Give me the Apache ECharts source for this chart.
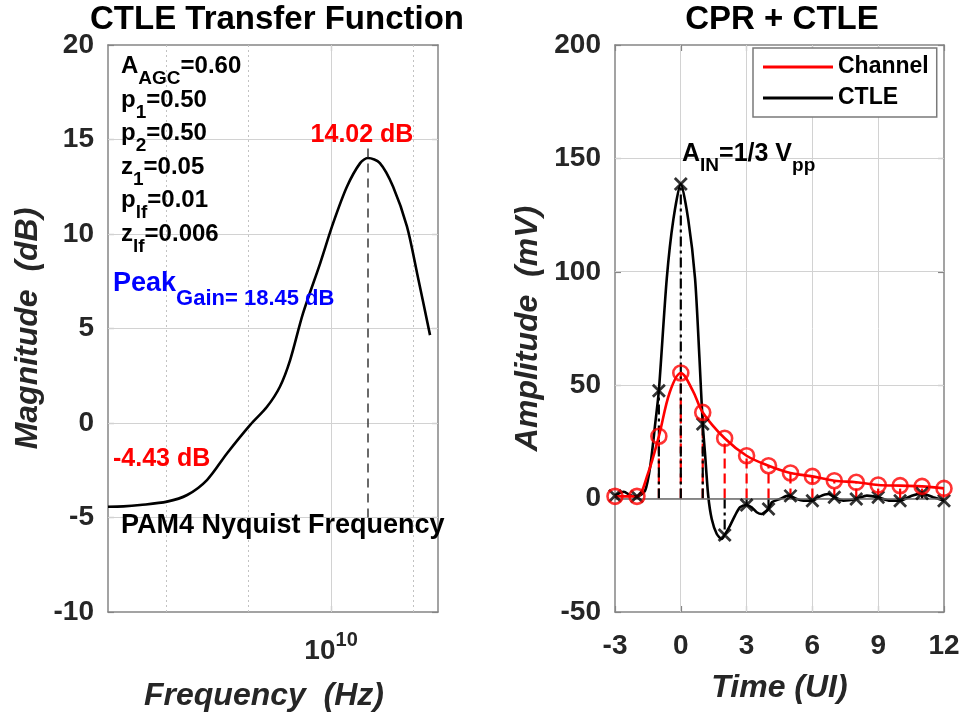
<!DOCTYPE html>
<html>
<head>
<meta charset="utf-8">
<script src="https://cdn.jsdelivr.net/npm/echarts@6/dist/echarts.min.js"></script>
<style>html,body{margin:0;padding:0;background:#fff}#c{width:965px;height:718px}</style>
</head>
<body>
<div id="c"></div>
<script>
// ---------------- data: left panel (CTLE transfer function) ----------------
const freqHz = [2.109e9, 2.35e9, 2.636e9, 3.184e9, 3.664e9, 4.207e9, 4.842e9, 5.689e9, 6.397e9, 6.998e9, 7.516e9,
                8.222e9, 9.268e9, 1.014e10, 1.117e10, 1.225e10, 1.294e10, 1.406e10, 1.542e10, 1.698e10, 1.824e10, 1.995e10];
const magDb = [-4.43, -4.41, -4.34, -4.16, -3.81, -3.02, -1.6, -0.1, 0.86, 1.92, 3.33,
               5.8, 8.45, 10.56, 12.5, 13.75, 14.02, 13.75, 12.5, 10.4, 7.9, 4.65];
const freqRangeHz = [2.109e9, 2.109e10];
const freqMinorGridHz = [3.162e9, 5.623e9, 1.778e10];
const freqMajorTickHz = [1e10];
const nyquistHz = 1.294e10;
const nyquistLineDb = [-5, 14.7];
const magTicks = [-10, -5, 0, 5, 10, 15, 20];

// ---------------- data: right panel (CPR + CTLE) ----------------
const sampleUI = [-3, -2, -1, 0, 1, 2, 3, 4, 5, 6, 7, 8, 9, 10, 11, 12];
const channelSamples = [1, 1, 27.5, 55.4, 38, 26.6, 18.9, 14.5, 11.3, 9.8, 7.9, 7.2, 6, 5.7, 5.4, 4.5];
const ctleSamples = [1.3, 0.9, 47.6, 138.7, 32.9, -16, -2.8, -4.6, 1.2, -0.9, 0.6, -0.2, 0.6, -0.9, 2.2, -0.9];
const channelCurveT = [-3, -2.5, -2, -1.5, -1, -0.5, 0, 0.55, 1, 2, 3, 4, 5, 6, 7, 8, 9, 10, 11, 12];
const channelCurveV = [1, 1, 1, 11, 27.5, 47, 55.4, 47.5, 38, 26.6, 18.9, 14.5, 11.3, 9.8, 7.9, 7.2, 6, 5.7, 5.4, 4.5];
const ctleCurveT = [-3, -2.6, -2.3, -2, -1.63, -1.39, -1.16, -1, -0.64, -0.34, 0, 0.34, 0.65, 0.85, 1, 1.1, 1.25, 1.41,
                    1.64, 1.87, 2, 2.24, 2.47, 2.7, 3, 3.23, 3.46, 3.69, 3.92, 4, 4.15, 4.52, 4.9, 5, 5.29, 5.59, 6,
                    6.35, 6.73, 7, 7.41, 8, 8.48, 9, 9.54, 10, 10.53, 11, 11.51, 12];
const ctleCurveV = [1.3, 3, 1.5, 0.9, 3.5, 14.5, 33.6, 47.6, 97, 123, 138.7, 123, 97, 62, 32.9, 20.5, 1.3, -9,
                    -15.6, -17.8, -16, -12, -7.5, -3.8, -2.8, -3.8, -6, -6.8, -5.3, -4.6, -1.6, -0.2, 1.3, 1.2, -0.2, -0.9, -0.9,
                    1, 2, 0.6, -0.9, -0.2, 1.3, 0.6, -0.9, -0.9, 1.3, 2.2, 0.6, -0.9];
const timeTicks = [-3, 0, 3, 6, 9, 12];
const ampTicks = [-50, 0, 50, 100, 150, 200];

// ---------------- styling ----------------
const FONT = 'Liberation Sans, Arial, Helvetica, sans-serif';
const TXT = '#262626';
const AX = '#858585';
const GRIDC = '#d2d2d2';
const lg = Math.log10;
const first = a => a[0], last = a => a[a.length - 1];
const crisp = v => Math.round(v - 0.5) + 0.5;

const chart = echarts.init(document.getElementById('c'), null, {renderer: 'canvas'});

const tickLabel = () => ({fontSize: 28, fontWeight: 'bold', fontFamily: FONT, color: TXT, lineHeight: 28});
const axisName = () => ({fontSize: 32, fontWeight: 'bold', fontStyle: 'italic', fontFamily: FONT, color: TXT, lineHeight: 32});
const boxLine = () => ({show: true, onZero: false, lineStyle: {color: AX, width: 1.5}});
const inTick = () => ({show: true, inside: true, length: 6, lineStyle: {color: AX, width: 1.2}});

function txt(x, y, text, size, color, align) {
  return {type: 'text', x, y, silent: true, z: 100,
    style: {text, fontSize: size, fontWeight: 'bold', fontFamily: FONT, fill: color,
            align: align || 'left', verticalAlign: 'middle', textAlign: align || 'left', textVerticalAlign: 'middle'}};
}
function richTxt(x, y, text, mainSize, subSize, mainLH, subPad, color) {
  return {type: 'text', x, y, silent: true, z: 100,
    style: {text, fill: color, fontFamily: FONT, fontWeight: 'bold', fontSize: mainSize,
      align: 'left', verticalAlign: 'top', textAlign: 'left', textVerticalAlign: 'top',
      rich: {
        m: {fontSize: mainSize, fontWeight: 'bold', fontFamily: FONT, fill: color, lineHeight: mainLH, verticalAlign: 'top'},
        s: {fontSize: subSize, fontWeight: 'bold', fontFamily: FONT, fill: color, lineHeight: subSize + 1,
            padding: [subPad, 0, 0, 0], verticalAlign: 'top'}
      }}};
}

// grid lines drawn through the axes: [orientation(0=vertical,1=horizontal), value]
function gridLines(xIdx, yIdx, xs, ys, xr, yr, color, dash) {
  const data = xs.map(v => [0, v]).concat(ys.map(v => [1, v]));
  return {
    type: 'custom', xAxisIndex: xIdx, yAxisIndex: yIdx, z: 1, silent: true, clip: false,
    encode: {x: 0, y: 1}, data,
    renderItem: (params, api) => {
      const o = api.value(0), v = api.value(1);
      const a = o === 0 ? api.coord([v, yr[0]]) : api.coord([xr[0], v]);
      const b = o === 0 ? api.coord([v, yr[1]]) : api.coord([xr[1], v]);
      const shape = o === 0
        ? {x1: crisp(a[0]), y1: a[1], x2: crisp(b[0]), y2: b[1]}
        : {x1: a[0], y1: crisp(a[1]), x2: b[0], y2: crisp(b[1])};
      return {type: 'line', shape, style: {stroke: color, lineWidth: 1, lineDash: dash || null, fill: null}};
    }
  };
}

function stemSeries(name, values, color, dash, z) {
  return {
    type: 'custom', name, xAxisIndex: 2, yAxisIndex: 2, z, silent: true, clip: true,
    data: sampleUI.map((t, i) => [t, values[i]]),
    renderItem: (params, api) => {
      const a = api.coord([api.value(0), 0]);
      const b = api.coord([api.value(0), api.value(1)]);
      return {type: 'line', shape: {x1: a[0], y1: a[1], x2: b[0], y2: b[1]},
              style: {stroke: color, lineWidth: 2.2, lineDash: dash, fill: null}};
    }
  };
}

const fxr = [lg(freqRangeHz[0]), lg(freqRangeHz[1])];
const myr = [first(magTicks), last(magTicks)];
const txr = [first(timeTicks), last(timeTicks)];
const ayr = [first(ampTicks), last(ampTicks)];

const option = {
  animation: false,
  backgroundColor: '#fff',
  textStyle: {fontFamily: FONT},
  grid: [
    {left: 108, top: 45, width: 330, height: 567, outerBoundsMode: 'none', containLabel: false},
    {left: 615, top: 45, width: 329, height: 567, outerBoundsMode: 'none', containLabel: false}
  ],
  xAxis: [
    { gridIndex: 0, type: 'value', position: 'bottom', min: fxr[0], max: fxr[1],
      axisLine: boxLine(),
      axisTick: {show: true, inside: true, length: 6, lineStyle: {color: AX, width: 1.2}, customValues: freqMajorTickHz.map(lg)},
      splitLine: {show: false},
      axisLabel: {customValues: freqMajorTickHz.map(lg), margin: 18,
        formatter: v => '{b|10}{s|' + Math.round(v) + '}',
        rich: {
          b: {fontSize: 28, fontWeight: 'bold', fontFamily: FONT, color: TXT, lineHeight: 30, padding: [7, 0, 0, 0], verticalAlign: 'top'},
          s: {fontSize: 20, fontWeight: 'bold', fontFamily: FONT, color: TXT, lineHeight: 22, verticalAlign: 'top'}
        }},
      name: 'Frequency  (Hz)', nameLocation: 'middle', nameGap: 68,
      nameTextStyle: Object.assign(axisName(), {padding: [0, 18, 0, 0]})
    },
    { gridIndex: 0, type: 'value', position: 'top', min: fxr[0], max: fxr[1],
      axisLine: boxLine(),
      axisTick: {show: true, inside: true, length: 6, lineStyle: {color: AX, width: 1.2}, customValues: freqMajorTickHz.map(lg)},
      axisLabel: {show: false}, splitLine: {show: false}
    },
    { gridIndex: 1, type: 'value', position: 'bottom', min: txr[0], max: txr[1], interval: timeTicks[1] - timeTicks[0],
      axisLine: boxLine(), axisTick: inTick(),
      axisLabel: Object.assign({margin: 20}, tickLabel()),
      splitLine: {show: false},
      name: 'Time (UI)', nameLocation: 'middle', nameGap: 60, nameTextStyle: axisName()
    },
    { gridIndex: 1, type: 'value', position: 'top', min: txr[0], max: txr[1], interval: timeTicks[1] - timeTicks[0],
      axisLine: boxLine(), axisTick: inTick(), axisLabel: {show: false}, splitLine: {show: false}
    }
  ],
  yAxis: [
    { gridIndex: 0, type: 'value', position: 'left', min: myr[0], max: myr[1], interval: magTicks[1] - magTicks[0],
      axisLine: boxLine(), axisTick: inTick(),
      axisLabel: Object.assign({margin: 14, padding: [7, 0, 0, 0]}, tickLabel()),
      splitLine: {show: false},
      name: 'Magnitude  (dB)', nameLocation: 'middle', nameGap: 64, nameTextStyle: axisName()
    },
    { gridIndex: 0, type: 'value', position: 'right', min: myr[0], max: myr[1], interval: magTicks[1] - magTicks[0],
      axisLine: boxLine(), axisTick: inTick(), axisLabel: {show: false}, splitLine: {show: false}
    },
    { gridIndex: 1, type: 'value', position: 'left', min: ayr[0], max: ayr[1], interval: ampTicks[1] - ampTicks[0],
      axisLine: boxLine(), axisTick: inTick(),
      axisLabel: Object.assign({margin: 14, padding: [7, 0, 0, 0]}, tickLabel()),
      splitLine: {show: false},
      name: 'Amplitude  (mV)', nameLocation: 'middle', nameGap: 71, nameTextStyle: axisName()
    },
    { gridIndex: 1, type: 'value', position: 'right', min: ayr[0], max: ayr[1], interval: ampTicks[1] - ampTicks[0],
      axisLine: boxLine(), axisTick: inTick(), axisLabel: {show: false}, splitLine: {show: false}
    }
  ],
  legend: {
    data: ['Channel', 'CTLE'], left: 753, top: 48, orient: 'vertical', icon: 'rect',
    itemWidth: 70, itemHeight: 3, itemGap: 3, padding: [5, 8, 5, 10],
    backgroundColor: '#fff', borderColor: '#7a7a7a', borderWidth: 1.5, selectedMode: false,
    textStyle: {fontSize: 23, fontWeight: 'bold', color: '#000', fontFamily: FONT, lineHeight: 28}
  },
  series: [
    gridLines(0, 0, freqMinorGridHz.map(lg), [], fxr, myr, '#c2c2c2', [2, 3]),
    gridLines(0, 0, freqMajorTickHz.map(lg), magTicks.slice(1, -1), fxr, myr, GRIDC, null),
    gridLines(2, 2, timeTicks.slice(1, -1), ampTicks.slice(1, -1), txr, ayr, GRIDC, null),
    { name: 'Magnitude', type: 'line', xAxisIndex: 0, yAxisIndex: 0, z: 3,
      data: freqHz.map((f, i) => [lg(f), magDb[i]]),
      smooth: 0.3, symbol: 'none', color: '#000', lineStyle: {color: '#000', width: 2.6},
      markLine: { silent: true, symbol: ['none', 'none'], label: {show: false},
        lineStyle: {color: '#3a3a3a', width: 1.5, type: [9, 6]},
        data: [[{coord: [lg(nyquistHz), nyquistLineDb[0]]}, {coord: [lg(nyquistHz), nyquistLineDb[1]]}]] }
    },
    Object.assign(stemSeries('chStem', channelSamples, '#ff0000', [10, 5], 2), {
      markLine: { silent: true, symbol: ['none', 'none'], label: {show: false},
        lineStyle: {color: '#6a6a6a', width: 1.5, type: 'solid'}, data: [{yAxis: 0}] }
    }),
    stemSeries('ctleStem', ctleSamples, '#000000', [10, 4, 3, 4], 3),
    { name: 'CTLE', type: 'line', xAxisIndex: 2, yAxisIndex: 2, z: 3,
      data: ctleCurveT.map((t, i) => [t, ctleCurveV[i]]),
      smooth: 0.25, symbol: 'none', color: '#000', itemStyle: {color: '#000'}, lineStyle: {color: '#000', width: 2.6} },
    { name: 'Channel', type: 'line', xAxisIndex: 2, yAxisIndex: 2, z: 4,
      data: channelCurveT.map((t, i) => [t, channelCurveV[i]]),
      smooth: 0.35, symbol: 'none', color: '#ff0000', itemStyle: {color: '#ff0000'}, lineStyle: {color: '#ff0000', width: 2.6} },
    { name: 'ctleMarks', type: 'scatter', xAxisIndex: 2, yAxisIndex: 2, z: 5, silent: true,
      data: sampleUI.map((t, i) => [t, ctleSamples[i]]),
      symbol: 'path://M0 0L10 10M10 0L0 10', symbolSize: 12,
      itemStyle: {color: 'none', borderColor: '#000', borderWidth: 2.8} },
    { name: 'chMarks', type: 'scatter', xAxisIndex: 2, yAxisIndex: 2, z: 6, silent: true,
      data: sampleUI.map((t, i) => [t, channelSamples[i]]),
      symbol: 'circle', symbolSize: 15,
      itemStyle: {color: 'none', borderColor: '#ff0000', borderWidth: 2.6} }
  ],
  graphic: [
    txt(277, 20, 'CTLE Transfer Function', 33, '#000', 'center'),
    txt(782, 20, 'CPR + CTLE', 33, '#000', 'center'),
    richTxt(121, 54.5, '{m|A}{s|AGC}{m|=0.60}', 24, 19, 26, 15, '#000'),
    richTxt(121, 88, '{m|p}{s|1}{m|=0.50}', 24, 19, 26, 15, '#000'),
    richTxt(121, 121, '{m|p}{s|2}{m|=0.50}', 24, 19, 26, 15, '#000'),
    richTxt(121, 155, '{m|z}{s|1}{m|=0.05}', 24, 19, 26, 15, '#000'),
    richTxt(121, 188.5, '{m|p}{s|lf}{m|=0.01}', 24, 19, 26, 15, '#000'),
    richTxt(121, 222, '{m|z}{s|lf}{m|=0.006}', 24, 19, 26, 15, '#000'),
    richTxt(113, 270.5, '{m|Peak}{s|Gain= 18.45 dB}', 27, 22, 30, 17, '#0000ff'),
    txt(362, 135, '14.02 dB', 25, '#ff0000', 'center'),
    txt(113, 459.5, '-4.43 dB', 25, '#ff0000', 'left'),
    txt(121, 526, 'PAM4 Nyquist Frequency', 27, '#000', 'left'),
    richTxt(682, 141.7, '{m|A}{s|IN}{m|=1/3 V}{s|pp}', 25, 19, 28, 15, '#000')
  ]
};
chart.setOption(option);
</script>
</body>
</html>
